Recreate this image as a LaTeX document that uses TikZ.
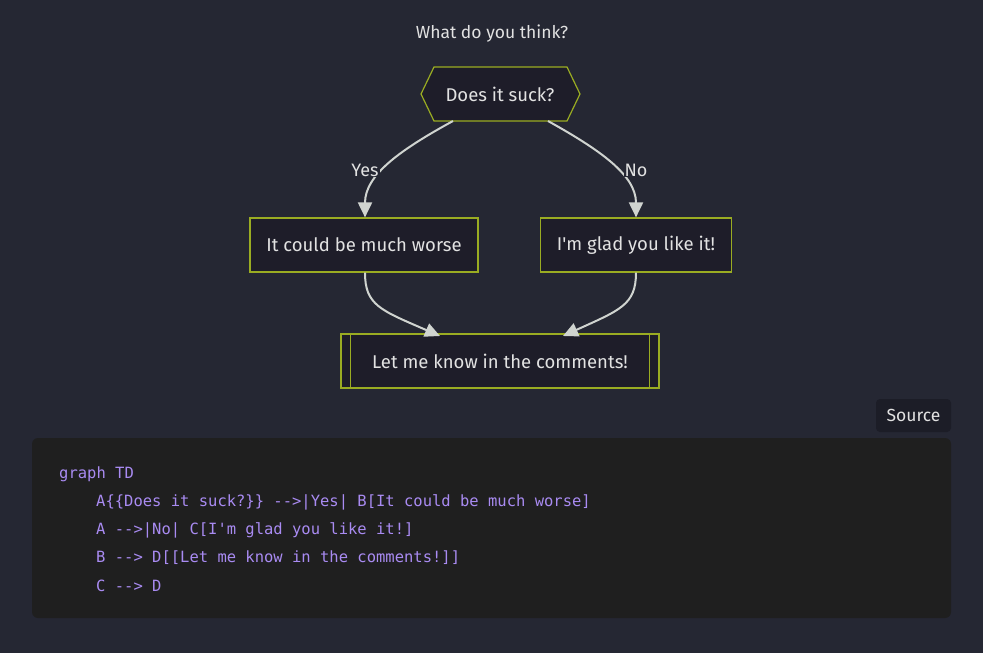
\documentclass[tikz,border=0pt]{standalone}
\usepackage{fontspec}
\setmainfont{Fira Sans}
\setmonofont{DejaVu Sans Mono}
\usetikzlibrary{arrows.meta}
\definecolor{bg}{HTML}{252733}
\definecolor{nodefill}{HTML}{1E1D29}
\definecolor{border}{HTML}{9AAC22}
\definecolor{txt}{HTML}{E2E2E2}
\definecolor{edge}{HTML}{D0D4D0}
\definecolor{codebg}{HTML}{1F1F1F}
\definecolor{codetxt}{HTML}{A98BF2}
\definecolor{btn}{HTML}{1C1D27}
\tikzset{
  box/.style={draw=border, fill=nodefill, line width=1.2pt, text=txt, font=\fontsize{18.5}{22}\selectfont, minimum height=54pt, inner xsep=10pt},
  lbl/.style={fill=bg, text=txt, font=\fontsize{18}{22}\selectfont, inner sep=1pt},
  link/.style={draw=edge, line width=2pt, -{Triangle[length=15pt,width=14pt]}},
  code/.style={text=codetxt, font=\ttfamily\fontsize{15.5}{18}\selectfont, anchor=west, inner sep=0pt}
}
\begin{document}
\begin{tikzpicture}[x=1pt,y=-1pt]
\fill[bg] (0,0) rectangle (983,653);
\useasboundingbox (0,0) rectangle (983,653);
\node[text=txt, font=\fontsize{17.5}{20}\selectfont] (title) at (492,34) {What do you think?};
% hexagon A
\filldraw[draw=border, fill=nodefill, line width=1.2pt] (434,67) -- (567,67) -- (580,94) -- (567,121) -- (434,121) -- (421,94) -- cycle;
\node[text=txt, font=\fontsize{18.5}{22}\selectfont, minimum width=159pt, minimum height=54pt] (A) at (500,94) {Does it suck?};
\node[box, minimum width=228pt] (B) at (364,245) {It could be much worse};
\node[box, minimum width=191pt] (C) at (636,245) {I\textquotesingle m glad you like it!};
\node[box, minimum width=318pt] (D) at (500,361) {Let me know in the comments!};
\draw[border, line width=1.2pt] ([xshift=10pt]D.north west) -- ([xshift=10pt]D.south west);
\draw[border, line width=1.2pt] ([xshift=-10pt]D.north east) -- ([xshift=-10pt]D.south east);
% edges
\coordinate (a1) at (453,121);
\coordinate (a2) at (548,121);
\draw[link] (a1) .. controls (400,150) and (365,175) .. (B.north -| 365,0);
\draw[link] (a2) .. controls (600,150) and (636,175) .. (C.north);
\draw[link] (B.south -| 365,0) .. controls (365,305) and (380,310) .. (440,336);
\draw[link] (C.south) .. controls (636,305) and (620,310) .. (563,336);
\node[lbl] (yes) at (365,170) {Yes};
\node[lbl] (no) at (636,170) {No};
% source button
\fill[btn, rounded corners=4pt] (876,399) rectangle (951,432);
\node[text=txt, font=\fontsize{17.5}{20}\selectfont] (src) at (913.5,415.5) {Source};
% code block
\fill[codebg, rounded corners=6pt] (32,438) rectangle (951,618);
\node[code] (l1) at (59,474) {graph TD};
\node[code] (l2) at (96,502) {A\{\{Does it suck?\}\} -->|Yes| B[It could be much worse]};
\node[code] (l3) at (96,530) {A -->|No| C[I\textquotesingle m glad you like it!]};
\node[code] (l4) at (96,558) {B --> D[[Let me know in the comments!]]};
\node[code] (l5) at (96,586) {C --> D};
\end{tikzpicture}
\end{document}
